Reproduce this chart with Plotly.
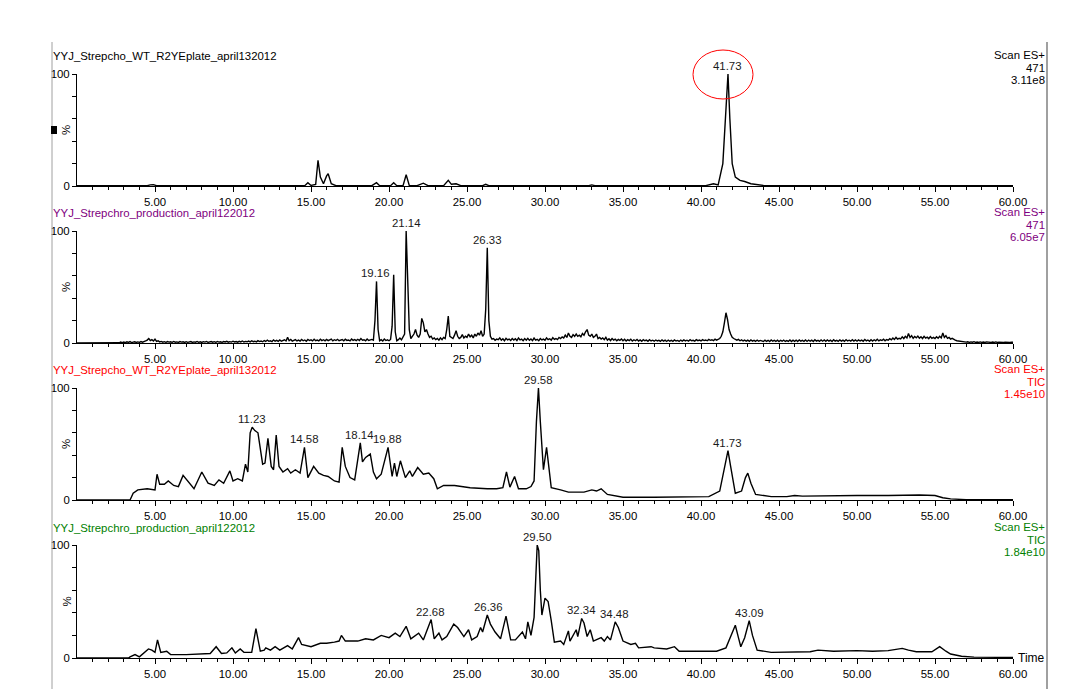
import plotly.graph_objects as go

# ---------------- data (time in min, relative intensity %) ----------------
wt_471 = [(0, 0.3), (4.5, 0.3), (4.7, 1.0), (4.9, 1.2), (5.1, 0.3), (14.6, 0.3), (14.8, 3), (15.0, 0.5),
          (15.3, 1.5), (15.45, 23), (15.6, 8), (15.8, 2), (16.0, 9), (16.1, 11), (16.3, 2), (16.6, 0.3),
          (18.9, 0.3), (19.2, 3), (19.4, 0.3), (20.1, 0.3), (20.3, 3), (20.5, 0.3), (20.9, 0.3), (21.1, 10),
          (21.3, 0.5), (21.8, 0.3), (22.2, 2.5), (22.5, 0.3), (23.5, 0.3), (23.8, 5), (24.0, 1.5), (24.3, 2),
          (24.6, 0.3), (26.0, 0.3), (26.2, 1.5), (26.4, 0.3), (32.8, 0.3), (33.0, 1), (33.2, 0.3), (40.3, 0.3),
          (40.8, 2), (41.1, 1), (41.4, 20), (41.6, 70), (41.73, 100), (41.85, 60), (42.0, 20), (42.2, 8),
          (42.5, 5), (42.8, 4), (43.2, 2), (44.0, 0.5), (60, 0.3)]

# production m/z 471: scans every 0.1 min from 2.0 min; one row per minute (2.0-2.9, 3.0-3.9, ...)
prod_471_start = 2.0
prod_471_step = 0.1
prod_471_rows = [
    [0, 0, 0, 0, 0, 0.3, 0.6, 0.2, 0.8, 0.4],
    [0.9, 0.3, 1.0, 0.5, 1.2, 0.4, 0.8, 1.1, 0.5, 1.0],
    [0.6, 1.3, 0.7, 1.0, 1.8, 2.6, 4.0, 2.2, 3.0, 1.8],
    [3.5, 1.5, 2.0, 1.0, 1.4, 0.7, 1.2, 0.6, 1.3, 0.8],
    [1.1, 0.6, 1.4, 0.7, 1.0, 0.5, 1.3, 0.8, 1.1, 0.5],
    [1.2, 0.6, 0.9, 1.3, 0.5, 1.0, 0.7, 1.4, 0.6, 1.1],
    [0.5, 1.2, 0.8, 1.4, 0.6, 1.0, 1.3, 0.7, 1.2, 0.6],
    [1.4, 0.8, 1.1, 0.6, 1.3, 0.9, 1.5, 0.7, 1.2, 0.8],
    [1.6, 0.9, 1.3, 0.7, 1.5, 1.0, 1.8, 0.9, 1.4, 1.1],
    [1.7, 1.0, 2.0, 1.2, 1.6, 1.0, 2.1, 1.3, 1.8, 1.1],
    [2.2, 1.4, 2.6, 1.5, 2.0, 1.3, 2.8, 1.6, 2.3, 1.5],
    [2.7, 1.6, 2.2, 2.9, 1.8, 5.0, 2.0, 3.1, 1.7, 2.6],
    [3.0, 1.8, 2.6, 1.7, 3.2, 2.0, 2.7, 1.6, 3.1, 2.2],
    [2.8, 1.9, 3.3, 2.0, 2.6, 1.8, 3.4, 2.2, 2.9, 1.9],
    [3.2, 2.1, 2.7, 3.5, 1.9, 2.9, 2.2, 3.3, 2.0, 2.8],
    [3.1, 2.0, 3.4, 2.3, 2.7, 1.9, 3.6, 2.4, 3.0, 2.1],
    [3.3, 2.2, 4.0, 2.5, 2.9, 2.0, 3.5, 2.3, 3.0, 3.2],
    [2.5, 20, 55, 12, 2.0, 3.0, 1.8, 3.5, 2.2, 2.8],
    [2.0, 3.2, 15, 61, 10, 2.0, 3.0, 4.5, 2.8, 5.0],
    [8.0, 100, 55, 12, 4.0, 6.0, 8.0, 12, 7.0, 5.0],
    [8.0, 22, 18, 10, 12, 8.0, 5.0, 6.0, 3.5, 4.5],
    [3.0, 4.0, 2.5, 4.5, 3.0, 5.0, 4.0, 12, 24, 6.0],
    [5.0, 4.0, 7.0, 11, 6.0, 4.0, 5.0, 7.5, 4.5, 6.0],
    [5.0, 8.0, 5.5, 7.0, 4.5, 8.0, 6.0, 9.0, 7.0, 11],
    [6.0, 8.0, 30, 85, 20, 6.0, 3.5, 4.0, 2.5, 3.5],
    [3.0, 4.5, 2.5, 3.8, 2.0, 4.2, 2.8, 3.5, 2.2, 4.0],
    [2.6, 3.8, 2.2, 4.5, 2.8, 3.4, 2.0, 3.9, 2.5, 4.2],
    [2.4, 3.6, 2.1, 4.4, 2.6, 3.3, 2.0, 4.0, 2.7, 3.5],
    [2.5, 4.5, 3.0, 3.8, 2.6, 4.8, 3.2, 4.0, 3.0, 5.0],
    [4.0, 5.5, 4.5, 7.0, 5.0, 9.0, 6.0, 5.0, 7.5, 6.0],
    [8.0, 6.0, 7.0, 5.5, 8.5, 7.0, 10, 12, 7.0, 6.0],
    [8.0, 5.0, 6.0, 8.0, 4.0, 5.0, 3.5, 4.5, 3.0, 5.0],
    [2.5, 3.8, 2.2, 4.0, 2.6, 3.5, 2.0, 3.2, 2.4, 3.6],
    [2.0, 3.3, 1.8, 3.0, 2.2, 3.4, 1.7, 2.9, 2.0, 3.1],
    [1.8, 2.8, 1.6, 3.0, 2.0, 2.6, 1.5, 2.9, 1.8, 2.5],
    [1.6, 2.7, 1.9, 2.4, 1.5, 2.8, 1.7, 2.5, 1.4, 2.6],
    [1.6, 2.4, 1.5, 2.7, 1.8, 2.3, 1.4, 2.6, 1.7, 2.8],
    [1.9, 2.5, 1.6, 2.9, 2.0, 2.4, 1.7, 3.0, 2.1, 2.6],
    [1.8, 3.0, 2.2, 2.7, 2.0, 3.2, 2.4, 2.9, 2.2, 3.4],
    [2.6, 3.5, 4.0, 6.0, 10, 18, 27, 21, 12, 8.0],
    [5.0, 4.0, 3.0, 2.5, 3.2, 2.0, 2.8, 1.8, 2.6, 1.6],
    [2.5, 1.5, 2.7, 1.7, 2.4, 1.4, 2.6, 1.6, 2.3, 1.5],
    [1.4, 2.6, 1.5, 2.4, 1.3, 2.7, 1.6, 2.3, 1.4, 2.5],
    [1.3, 2.4, 1.6, 2.6, 1.4, 2.2, 1.5, 2.7, 1.3, 2.5],
    [1.5, 2.6, 1.4, 2.8, 1.6, 2.3, 1.5, 2.7, 1.4, 2.6],
    [1.6, 2.5, 1.4, 2.9, 1.7, 2.4, 1.5, 2.8, 1.6, 2.7],
    [1.5, 2.7, 1.6, 2.5, 1.4, 2.9, 1.7, 2.4, 1.5, 2.8],
    [1.7, 2.6, 1.5, 3.0, 1.8, 2.5, 1.6, 2.9, 1.7, 2.7],
    [1.6, 2.8, 1.8, 2.6, 1.5, 3.1, 1.9, 2.7, 1.6, 3.0],
    [1.8, 2.9, 2.0, 3.3, 1.9, 2.8, 2.2, 3.4, 2.0, 3.1],
    [2.5, 3.8, 2.8, 4.5, 3.2, 5.0, 3.5, 4.2, 3.6, 5.5],
    [4.0, 6.0, 4.5, 8.5, 5.0, 6.5, 4.2, 5.8, 4.6, 6.2],
    [4.3, 5.5, 4.0, 6.0, 4.4, 5.2, 3.9, 5.8, 4.2, 5.0],
    [4.0, 5.5, 4.3, 6.0, 4.5, 9.0, 5.0, 6.5, 4.2, 5.0],
    [3.5, 4.2, 3.0, 2.6, 2.0, 1.8, 1.4, 1.6, 1.0, 1.3],
    [0.8, 1.1, 0.6, 1.0, 0.7, 1.2, 0.6, 0.9, 0.5, 1.0],
    [0.6, 0.9, 0.5, 1.0, 0.7, 0.8, 0.5, 0.9, 0.6, 1.0],
    [0.5, 0.8, 0.6, 0.9, 0.5, 0.8, 0.6, 0.9, 0.5, 0.8],
    [0.6],
]

wt_tic = [(0, 0), (3.4, 0), (3.6, 6), (3.9, 9), (4.5, 10), (5.0, 9), (5.13, 23), (5.3, 14), (5.6, 14), (5.85, 17),
          (6.2, 13), (6.5, 12), (6.8, 22), (7.1, 17), (7.5, 10), (8.0, 25), (8.4, 15), (8.8, 13), (9.1, 18),
          (9.4, 15), (9.8, 26), (10.0, 17), (10.3, 19), (10.6, 17), (10.8, 32), (10.95, 25), (11.1, 60),
          (11.23, 65), (11.4, 62), (11.6, 60), (11.75, 45), (11.9, 32), (12.05, 33), (12.24, 55), (12.45, 30),
          (12.6, 27), (12.77, 58), (12.95, 30), (13.2, 25), (13.5, 28), (13.7, 24), (14.0, 27), (14.3, 24),
          (14.58, 47), (14.8, 20), (15.17, 30), (15.5, 24), (15.8, 22), (16.1, 21), (16.5, 17), (16.8, 16),
          (17.0, 47), (17.2, 30), (17.5, 20), (17.8, 18), (18.0, 35), (18.16, 51), (18.3, 34), (18.5, 38),
          (18.8, 41), (19.0, 25), (19.2, 19), (19.5, 23), (19.94, 47), (20.2, 21), (20.35, 33), (20.5, 21),
          (20.73, 35), (21.05, 20), (21.33, 26), (21.5, 21), (21.84, 29), (22.2, 23), (22.55, 24), (22.87, 19),
          (23.1, 10), (23.5, 13), (24.2, 13), (25.2, 11), (26.3, 10), (26.9, 10), (27.3, 11), (27.53, 25),
          (27.75, 11.5), (28.05, 21), (28.3, 10), (28.8, 10), (29.1, 12), (29.3, 17), (29.45, 70), (29.58, 100),
          (29.7, 70), (29.9, 27), (30.1, 47), (30.25, 30), (30.4, 11), (31.0, 9), (31.5, 7), (32.5, 7), (33.0, 9),
          (33.3, 8), (33.6, 10), (34.0, 5), (34.5, 4), (35.0, 2.5), (37.0, 2.5), (39.0, 2.5), (40.5, 3),
          (41.2, 8), (41.5, 30), (41.73, 44), (41.9, 30), (42.2, 6), (42.6, 8), (42.85, 20), (43.0, 24),
          (43.2, 15), (43.5, 5), (44.5, 3), (45.5, 3), (46.0, 4), (46.5, 3.5), (48.0, 4), (50.0, 4), (52.0, 4),
          (54.0, 4.5), (55.0, 4), (55.5, 2), (56.0, 1), (56.5, 0.5), (57.0, 0.3), (60.0, 0.3)]

prod_tic = [(0, 0), (3.3, 0), (3.4, 1), (3.72, 3), (4.0, 1), (4.3, 5), (4.58, 8), (4.8, 7), (5.0, 5), (5.16, 16),
            (5.37, 5), (5.75, 6), (6.0, 3), (7.0, 3), (8.0, 3.5), (8.54, 4), (8.92, 10), (9.26, 4), (9.6, 4.5),
            (9.93, 9), (10.15, 4.5), (10.46, 8), (10.7, 5), (11.2, 5), (11.47, 26), (11.75, 6), (12.0, 7),
            (12.1, 9), (12.4, 7), (12.7, 10), (13.0, 7), (13.5, 11), (13.8, 8), (14.2, 18), (14.4, 12), (14.8, 11),
            (15.0, 10), (15.6, 13), (16.0, 13), (16.5, 14), (16.8, 15), (16.95, 20), (17.2, 15), (18.0, 15),
            (18.5, 17), (19.0, 16), (19.5, 20), (20.0, 18), (20.4, 22), (20.7, 19), (21.1, 28), (21.4, 17),
            (21.9, 22), (22.2, 16), (22.7, 34), (22.9, 17), (23.2, 22), (23.4, 16), (23.7, 19), (24.15, 30),
            (24.4, 27), (24.8, 19), (25.1, 25), (25.3, 16), (25.65, 19), (25.87, 27), (26.0, 23), (26.3, 38),
            (26.5, 30), (26.8, 23), (27.15, 17), (27.5, 37), (27.8, 16), (28.1, 16), (28.55, 23), (28.75, 17),
            (28.9, 32), (29.1, 20), (29.3, 36), (29.5, 100), (29.6, 95), (29.7, 60), (29.8, 38), (30.0, 53),
            (30.2, 50), (30.4, 33), (30.6, 14), (31.0, 15), (31.2, 12), (31.5, 24), (31.6, 15), (32.0, 25),
            (32.1, 19), (32.35, 35), (32.5, 31), (32.7, 19), (32.9, 25), (33.1, 15), (33.6, 18), (33.8, 15),
            (34.0, 19), (34.2, 16), (34.5, 32), (34.7, 27), (35.0, 15), (35.5, 12), (35.8, 13), (36.0, 9),
            (36.8, 10), (37.0, 9), (37.8, 8), (38.3, 10), (38.6, 6), (40.0, 6), (41.0, 6), (41.6, 9), (42.0, 22),
            (42.2, 29), (42.4, 18), (42.55, 10), (42.8, 18), (43.09, 33), (43.3, 20), (43.6, 7), (44.5, 5),
            (46.0, 5), (47.0, 5.5), (47.5, 7), (48.5, 6), (50.0, 6.5), (51.0, 6), (52.0, 6.5), (52.9, 8.5),
            (53.3, 7), (53.8, 5.5), (54.8, 5.5), (55.3, 10), (55.7, 6), (56.0, 3.5), (56.7, 1.5), (57.5, 0.8),
            (60, 0.5)]

# labelled peaks: (retention time, height %)
peaks_wt_471 = [(41.73, 100)]
peaks_prod_471 = [(19.16, 55), (21.14, 100), (26.33, 85)]
peaks_wt_tic = [(11.23, 65), (14.58, 47), (18.14, 51), (19.88, 47), (29.58, 100), (41.73, 44)]
peaks_prod_tic = [(22.68, 34), (26.36, 38), (29.50, 100), (32.34, 35), (34.48, 32), (43.09, 33)]

titles = ["YYJ_Strepcho_WT_R2YEplate_april132012", "YYJ_Strepchro_production_april122012",
          "YYJ_Strepcho_WT_R2YEplate_april132012", "YYJ_Strepchro_production_april122012"]
info = [["Scan ES+", "471", "3.11e8"], ["Scan ES+", "471", "6.05e7"],
        ["Scan ES+", "TIC", "1.45e10"], ["Scan ES+", "TIC", "1.84e10"]]
x_ticks = [5, 10, 15, 20, 25, 30, 35, 40, 45, 50, 55, 60]
x_ticktext = ["5.00", "10.00", "15.00", "20.00", "25.00", "30.00", "35.00", "40.00", "45.00", "50.00",
              "55.00", "60.00"]

# ---------------- layout geometry (pixels) ----------------
W, H = 1089, 689
FONT = "Liberation Sans, Arial, sans-serif"
FS = 11.4
colors = ["#000000", "#800080", "#ff0000", "#008000"]
bottoms = [186, 343, 500, 658]
tops = [74, 231, 388, 545]
title_y = [56, 213, 370, 528]
X0, X1 = 77, 1013


def pxx(p):
    return p / W


def pyy(p):
    return 1 - p / H


# expand the scan grid of the production m/z 471 trace
prod_471 = []
k = 0
for row in prod_471_rows:
    for v in row:
        prod_471.append((round(prod_471_start + k * prod_471_step, 2), v))
        k += 1
prod_471 = [(0, 0)] + prod_471

fig = go.Figure()
datasets = [wt_471, prod_471, wt_tic, prod_tic]
peaksets = [peaks_wt_471, peaks_prod_471, peaks_wt_tic, peaks_prod_tic]
annotations = []
shapes = []
layout = {}

for i in range(4):
    n = "" if i == 0 else str(i + 1)
    d = datasets[i]
    fig.add_trace(go.Scatter(x=[p[0] for p in d], y=[p[1] for p in d], mode="lines",
                             line=dict(color="black", width=1.4), xaxis="x" + n, yaxis="y" + n,
                             showlegend=False, hoverinfo="skip"))
    layout["xaxis" + n] = dict(
        domain=[pxx(X0), pxx(X1)], range=[0, 60], anchor="y" + n, showgrid=False, zeroline=False,
        automargin=False,
        showline=True, linecolor="black", linewidth=1, ticks="outside", ticklen=5, tickcolor="black",
        tickwidth=1, tickmode="array", tickvals=x_ticks, ticktext=x_ticktext,
        tickfont=dict(family=FONT, size=FS, color="black"),
        minor=dict(tickvals=list(range(1, 60)), ticks="outside", ticklen=3, tickcolor="black", tickwidth=1),
    )
    layout["yaxis" + n] = dict(
        domain=[pyy(bottoms[i]), pyy(tops[i])], range=[0, 100], anchor="x" + n, showgrid=False,
        zeroline=False, automargin=False, showline=True, linecolor="black", linewidth=1, ticks="outside",
        ticklen=4, tickcolor="black", tickmode="array", tickvals=[0, 20, 40, 60, 80, 100],
        ticktext=["0", "", "", "", "", "100"], tickfont=dict(family=FONT, size=FS, color="black"),
    )
    # "%" label
    annotations.append(dict(x=pxx(66), y=pyy((bottoms[i] + tops[i]) / 2), xref="paper", yref="paper",
                            text="%", textangle=-90, showarrow=False, xanchor="center", yanchor="middle",
                            font=dict(family=FONT, size=FS, color="black")))
    # title
    annotations.append(dict(x=pxx(51), y=pyy(title_y[i]), xref="paper", yref="paper", text=titles[i],
                            showarrow=False, xanchor="left", yanchor="middle",
                            font=dict(family=FONT, size=FS, color=colors[i])))
    # right info block
    for k2, line in enumerate(info[i]):
        annotations.append(dict(x=pxx(1047), y=pyy(title_y[i] - 1 + 12.7 * k2), xref="paper", yref="paper",
                                text=line, showarrow=False, xanchor="right", yanchor="middle",
                                font=dict(family=FONT, size=FS, color=colors[i])))
    # peak labels
    for t, h in peaksets[i]:
        annotations.append(dict(x=t, y=h, xref="x" + n, yref="y" + n, text=f"{t:.2f}", showarrow=False,
                                xanchor="center", yanchor="bottom", yshift=0,
                                font=dict(family=FONT, size=FS, color="#1a1a1a")))

# "Time" label
annotations.append(dict(x=pxx(1016), y=pyy(658), xref="paper", yref="paper", text="Time", showarrow=False,
                        xanchor="left", yanchor="middle", font=dict(family=FONT, size=12, color="black")))

# frame lines
shapes.append(dict(type="line", xref="paper", yref="paper", x0=pxx(52), x1=pxx(52), y0=pyy(42), y1=pyy(689),
                   line=dict(color="#a0a0a0", width=1)))
shapes.append(dict(type="line", xref="paper", yref="paper", x0=pxx(1047), x1=pxx(1047), y0=pyy(42),
                   y1=pyy(689), line=dict(color="#a0a0a0", width=2)))
# black marker square
shapes.append(dict(type="rect", xref="paper", yref="paper", x0=pxx(51), x1=pxx(57), y0=pyy(134), y1=pyy(126),
                   fillcolor="black", line=dict(width=0)))
# red ellipse
shapes.append(dict(type="circle", xref="paper", yref="paper", x0=pxx(693), x1=pxx(753), y0=pyy(99),
                   y1=pyy(50), line=dict(color="red", width=1)))

fig.update_layout(width=W, height=H, margin=dict(l=0, r=0, t=0, b=0), paper_bgcolor="white",
                  plot_bgcolor="white", annotations=annotations, shapes=shapes, showlegend=False, **layout)

fig.write_html("out.html")
